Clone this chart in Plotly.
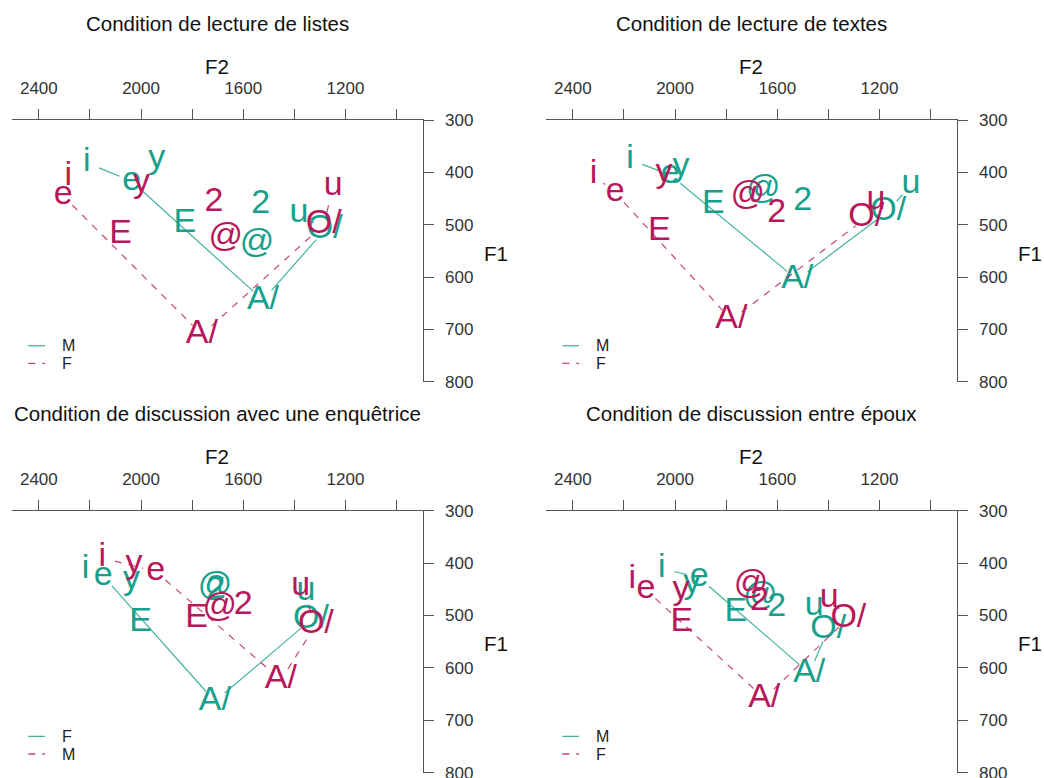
import math
import plotly.graph_objects as go

W, H = 1044, 778
FONT = "Liberation Sans, Arial, sans-serif"
TEAL = "#17a08b"
MAGENTA = "#b8175a"

VOWELS = ["i", "e", "E", "y", "2", "@", "A/", "O/", "u"]
CONTOUR = ["i", "e", "A/", "O/", "u"]

TITLES = [
    "Condition de lecture de listes",
    "Condition de lecture de textes",
    "Condition de discussion avec une enquêtrice",
    "Condition de discussion entre époux",
]
SERIES_NAMES = [("M", "F"), ("M", "F"), ("F", "M"), ("M", "F")]

# Mean formants (Hz) per vowel, in VOWELS order
LISTES_F2_1 = [2212, 2037, 1829, 1939, 1532, 1546, 1523, 1281, 1382]
LISTES_F1_1 = [382, 417, 497, 375, 462, 535, 644, 510, 478]
LISTES_F2_2 = [2285, 2305, 2080, 1998, 1715, 1669, 1762, 1285, 1248]
LISTES_F1_2 = [408, 445, 519, 422, 457, 525, 710, 500, 427]

TEXTES_F2_1 = [2176, 2019, 1850, 1977, 1501, 1655, 1522, 1166, 1077]
TEXTES_F1_1 = [376, 405, 461, 391, 456, 433, 605, 474, 424]
TEXTES_F2_2 = [2319, 2234, 2062, 2043, 1602, 1716, 1780, 1252, 1214]
TEXTES_F1_2 = [405, 439, 513, 403, 478, 445, 682, 487, 453]

ENQ_F2_1 = [2217, 2148, 2002, 2037, 1707, 1711, 1711, 1335, 1355]
ENQ_F1_1 = [413, 425, 513, 434, 451, 444, 664, 508, 455]
ENQ_F2_2 = [2152, 1943, 1783, 2028, 1600, 1692, 1453, 1316, 1375]
ENQ_F1_2 = [390, 416, 505, 402, 480, 485, 623, 518, 444]

EPOUX_F2_1 = [2052, 1906, 1762, 1934, 1602, 1667, 1475, 1401, 1456]
EPOUX_F1_1 = [410, 428, 495, 440, 485, 463, 610, 527, 483]
EPOUX_F2_2 = [2167, 2114, 1973, 1977, 1670, 1703, 1651, 1322, 1397]
EPOUX_F1_2 = [432, 451, 513, 453, 473, 441, 658, 505, 467]

PANELS = [
    (LISTES_F2_1, LISTES_F1_1, LISTES_F2_2, LISTES_F1_2),
    (TEXTES_F2_1, TEXTES_F1_1, TEXTES_F2_2, TEXTES_F1_2),
    (ENQ_F2_1, ENQ_F1_1, ENQ_F2_2, ENQ_F1_2),
    (EPOUX_F2_1, EPOUX_F1_1, EPOUX_F2_2, EPOUX_F1_2),
]

F2_TICKS = [2400, 2200, 2000, 1800, 1600, 1400, 1200, 1000]
F2_TICKTEXT = ["2400", "", "2000", "", "1600", "", "1200", ""]
F1_TICKS = [300, 400, 500, 600, 700, 800]
X_RANGE = [2505, 898]
Y_RANGE = [800, 300]

# panel boxes in pixels: (left, right, top, bottom)
BOXES = [
    (12, 422.7, 120, 381.7),
    (546, 956.7, 120, 381.7),
    (12, 422.7, 510.7, 772.7),
    (546, 956.7, 510.7, 772.7),
]

LABEL_SIZE = 34
GAP_PX = 13


def contour_path(f2, f1, box):
    """Polyline through the contour vowels, leaving a gap around each label."""
    px_x = (box[1] - box[0]) / (X_RANGE[0] - X_RANGE[1])
    px_y = (box[3] - box[2]) / (Y_RANGE[0] - Y_RANGE[1])
    pts = [(f2[VOWELS.index(v)], f1[VOWELS.index(v)]) for v in CONTOUR]
    xs, ys = [], []
    for (x0, y0), (x1, y1) in zip(pts, pts[1:]):
        length = math.hypot((x1 - x0) * px_x, (y1 - y0) * px_y)
        if length <= 2 * GAP_PX:
            continue
        t = GAP_PX / length
        xs += [x0 + (x1 - x0) * t, x1 - (x1 - x0) * t, None]
        ys += [y0 + (y1 - y0) * t, y1 - (y1 - y0) * t, None]
    return xs, ys


fig = go.Figure()
annotations = []
shapes = []

for k, (box, data) in enumerate(zip(BOXES, PANELS), start=1):
    xa = "x" if k == 1 else f"x{k}"
    ya = "y" if k == 1 else f"y{k}"
    f2a, f1a, f2b, f1b = data
    for f2, f1, color, dash in ((f2a, f1a, TEAL, "solid"), (f2b, f1b, MAGENTA, "7px,7px")):
        lx, ly = contour_path(f2, f1, box)
        fig.add_trace(go.Scatter(
            x=lx, y=ly, mode="lines", xaxis=xa, yaxis=ya, showlegend=False,
            line=dict(color=color, width=1.2, dash=dash), opacity=0.8,
            hoverinfo="skip"))
        fig.add_trace(go.Scatter(
            x=f2, y=f1, mode="text", text=VOWELS, textposition="middle center",
            textfont=dict(family=FONT, size=LABEL_SIZE, color=color),
            xaxis=xa, yaxis=ya, showlegend=False, hoverinfo="skip",
            cliponaxis=False))

    left, right, top, bottom = box
    xdom = [left / W, right / W]
    ydom = [1 - bottom / H, 1 - top / H]
    axis_common = dict(showgrid=False, zeroline=False, showline=True,
                       linecolor="#555", linewidth=1, ticks="outside",
                       ticklen=10, tickwidth=1, tickcolor="#555",
                       automargin=False, ticklabeloverflow="allow",
                       tickfont=dict(family=FONT, size=17, color="#333"))
    fig.layout[f"xaxis{k}"] = dict(
        domain=xdom, anchor=ya, side="top", range=X_RANGE,
        tickmode="array", tickvals=F2_TICKS, ticktext=F2_TICKTEXT,
        ticklabelstandoff=8, **axis_common)
    fig.layout[f"yaxis{k}"] = dict(
        domain=ydom, anchor=xa, side="right", range=Y_RANGE,
        tickmode="array", tickvals=F1_TICKS, ticklabelstandoff=8,
        **axis_common)

    cx = (left + right) / 2
    annotations.append(dict(text=TITLES[k - 1], x=cx / W, y=1 - (top - 97) / H,
                            xref="paper", yref="paper", showarrow=False,
                            xanchor="center", yanchor="middle",
                            font=dict(family=FONT, size=20.5, color="#111")))
    annotations.append(dict(text="F2", x=cx / W, y=1 - (top - 54) / H,
                            xref="paper", yref="paper", showarrow=False,
                            xanchor="center", yanchor="middle",
                            font=dict(family=FONT, size=20.5, color="#111")))
    annotations.append(dict(text="F1", x=(right + 73) / W, y=1 - (top + 133) / H,
                            xref="paper", yref="paper", showarrow=False,
                            xanchor="center", yanchor="middle",
                            font=dict(family=FONT, size=20.5, color="#111")))

    # legend keys
    for row, (name, color, dash) in enumerate(zip(SERIES_NAMES[k - 1], (TEAL, MAGENTA),
                                                  ("solid", "7px,7px"))):
        yk = top + 225.7 + row * 17.6
        shapes.append(dict(type="line", xref="paper", yref="paper",
                           x0=(left + 16.3) / W, x1=(left + 33) / W,
                           y0=1 - yk / H, y1=1 - yk / H,
                           line=dict(color=color, width=1.3, dash=dash), opacity=0.8))
        annotations.append(dict(text=name, x=(left + 48) / W, y=1 - yk / H,
                                xref="paper", yref="paper", showarrow=False,
                                xanchor="left", yanchor="middle",
                                font=dict(family=FONT, size=16, color="#222")))

fig.update_layout(
    width=W, height=H, margin=dict(l=0, r=0, t=0, b=0, autoexpand=False),
    paper_bgcolor="white", plot_bgcolor="white",
    annotations=annotations, shapes=shapes, showlegend=False,
)

fig.write_html("out.html")
